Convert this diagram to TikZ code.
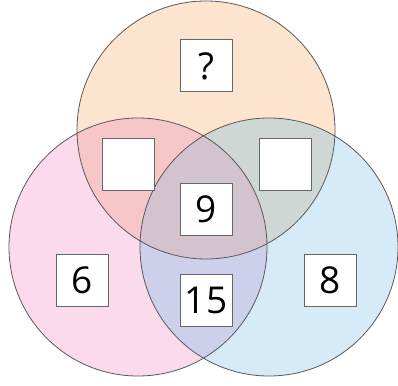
\documentclass[tikz,border=0pt]{standalone}
\usepackage{fontspec}
\setmainfont{Open Sans}
\begin{document}
\begin{tikzpicture}[x=1pt, y=-1pt,
    numbox/.style={draw=black!60, line width=1pt, fill=white, minimum size=52pt,
      inner sep=0pt, font=\fontsize{37}{37}\selectfont}]
    \def\rad{129}
    \def\cTop{(206,130) circle (\rad)}
    \def\cLeft{(138,247) circle (\rad)}
    \def\cRight{(269,247) circle (\rad)}
    \definecolor{my-orange}{RGB}{252,228,206}
    \definecolor{my-pink}{RGB}{250,218,235}
    \definecolor{my-blue}{RGB}{214,234,248}
    \definecolor{my-red}{RGB}{247,198,200}
    \definecolor{my-grey}{RGB}{207,215,213}
    \definecolor{my-mauve}{RGB}{211,195,207}
    \definecolor{my-lilac}{RGB}{205,208,234}
    \useasboundingbox (0,0) rectangle (398,385);
    \fill[my-orange] \cTop;
    \fill[my-pink] \cLeft;
    \fill[my-blue] \cRight;
    \begin{scope}
      \clip \cTop;
      \fill[my-red] \cLeft;
      \fill[my-grey] \cRight;
    \end{scope}
    \begin{scope}
      \clip \cLeft;
      \fill[my-lilac] \cRight;
      \clip \cRight;
      \fill[my-mauve] \cTop;
    \end{scope}
    \draw[black!65, line width=0.8pt] \cTop \cLeft \cRight;
    \node[numbox] (q)  at (206,66)  {?};
    \node[numbox] (tl) at (128,164) {};
    \node[numbox] (tr) at (285,164) {};
    \node[numbox] (c)  at (206,209) {9};
    \node[numbox] (l)  at (82,280)  {6};
    \node[numbox] (b)  at (206,300) {15};
    \node[numbox] (r)  at (330,280) {8};
  \end{tikzpicture}
\end{document}
